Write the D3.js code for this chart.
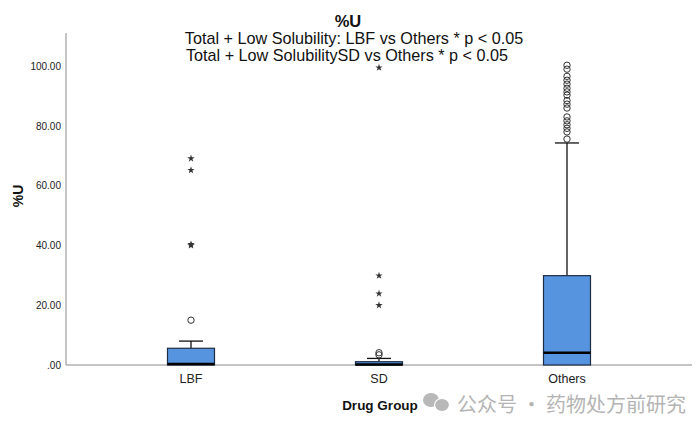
<!DOCTYPE html>
<html><head><meta charset="utf-8">
<script src="https://cdn.jsdelivr.net/npm/d3@7/dist/d3.min.js"></script>
<style>body{margin:0;background:#fff;} svg{display:block;font-family:"Liberation Sans",Arial,sans-serif;}</style>
</head><body>
<svg id="chart" width="700" height="432"></svg>
<script>
const categories = ["LBF", "SD", "Others"];
const q1Values = [0, 0, 0];
const medianValues = [0.3, 0.2, 4.1];
const q3Values = [5.6, 1.1, 29.9];
const whiskerLowValues = [0, 0, 0];
const whiskerHighValues = [8.0, 2.2, 74.3];
const outlierCircles = [
  [15.0],
  [3.4, 4.1],
  [75.6, 78.0, 79.2, 80.4, 81.7, 83.0, 86.0, 87.3, 88.5, 90.3, 91.4, 92.6, 94.0, 95.3, 96.6, 99.0, 100.3]
];
const extremeStars = [
  [40.0, 40.4, 65.2, 69.1],
  [20.0, 23.9, 29.9, 99.5],
  []
];
const yTicks = [0, 20, 40, 60, 80, 100];
const titleLines = ["%U", "Total + Low Solubility: LBF vs Others * p < 0.05", "Total + Low SolubilitySD vs Others * p < 0.05"];

const svg = d3.select("#chart");
const y = d3.scaleLinear().domain([0, 111.1]).range([365, 33]);
const x = d3.scaleBand().domain(categories).range([97, 661]).padding(0);
const boxW = 47, capW = 24;

// axes
const yAxis = d3.axisLeft(y).tickValues(yTicks).tickSize(0).tickPadding(5)
  .tickFormat(d => d === 0 ? ".00" : d3.format(".2f")(d));
const gy = svg.append("g").attr("transform", "translate(66,0)").call(yAxis);
gy.select(".domain").attr("stroke", "#8a8a8a").attr("d", `M0,${y(111.1)}V${y(0)}`);
gy.selectAll("text").attr("font-size", 10).attr("fill", "#222");

const xAxis = d3.axisBottom(x).tickSize(0).tickPadding(9);
const gx = svg.append("g").attr("transform", `translate(0,${y(0)})`).call(xAxis);
gx.select(".domain").attr("stroke", "#8a8a8a").attr("d", "M66,0H692");
gx.selectAll("text").attr("font-size", 12.5).attr("fill", "#222");

// boxes
const data = categories.map((c, i) => ({c, q1: q1Values[i], med: medianValues[i], q3: q3Values[i],
  lo: whiskerLowValues[i], hi: whiskerHighValues[i], circ: outlierCircles[i], stars: extremeStars[i]}));
const g = svg.append("g").selectAll("g").data(data).join("g")
  .attr("transform", d => `translate(${x(d.c) + x.bandwidth() / 2},0)`);
g.append("line").attr("x1", 0).attr("x2", 0).attr("y1", d => y(d.q3)).attr("y2", d => y(d.hi))
  .attr("stroke", "#111").attr("stroke-width", 1.3);
g.append("line").attr("x1", -capW / 2).attr("x2", capW / 2).attr("y1", d => y(d.hi)).attr("y2", d => y(d.hi))
  .attr("stroke", "#111").attr("stroke-width", 1.3);
g.append("rect").attr("x", -boxW / 2).attr("width", boxW)
  .attr("y", d => y(d.q3)).attr("height", d => y(d.q1) - y(d.q3))
  .attr("fill", "#5694e0").attr("stroke", "#1f2d44").attr("stroke-width", 1.2);
g.append("line").attr("x1", -boxW / 2).attr("x2", boxW / 2).attr("y1", d => y(d.med)).attr("y2", d => y(d.med))
  .attr("stroke", "#000").attr("stroke-width", 2.5);
g.selectAll("circle").data(d => d.circ).join("circle")
  .attr("cx", 0).attr("cy", v => y(v)).attr("r", 3.2)
  .attr("fill", "none").attr("stroke", "#333").attr("stroke-width", 1);
const star = d3.symbol(d3.symbolStar, 17);
g.selectAll("path.star").data(d => d.stars).join("path").attr("class", "star")
  .attr("transform", v => `translate(0,${y(v)})`).attr("d", star).attr("fill", "#333");

// titles
svg.append("text").attr("x", 348).attr("y", 27).attr("text-anchor", "middle")
  .attr("font-size", 16.5).attr("font-weight", "bold").attr("fill", "#111").text(titleLines[0]);
svg.append("text").attr("x", 354).attr("y", 44).attr("text-anchor", "middle")
  .attr("font-size", 16.2).attr("fill", "#111").text(titleLines[1]);
svg.append("text").attr("x", 347).attr("y", 61).attr("text-anchor", "middle")
  .attr("font-size", 16.2).attr("fill", "#111").text(titleLines[2]);

svg.append("text").attr("transform", "translate(23,196) rotate(-90)").attr("text-anchor", "middle")
  .attr("font-size", 14).attr("font-weight", "bold").attr("fill", "#111").text("%U");
svg.append("text").attr("x", 380).attr("y", 410).attr("text-anchor", "middle")
  .attr("font-size", 13.5).attr("font-weight", "bold").attr("fill", "#111").text("Drug Group");

// watermark
const wm = svg.append("g").attr("fill", "#b8b8b8");
wm.append("ellipse").attr("cx", 431).attr("cy", 400).attr("rx", 8).attr("ry", 7);
wm.append("ellipse").attr("cx", 442).attr("cy", 405).attr("rx", 7.5).attr("ry", 6.5).attr("stroke", "#fff").attr("stroke-width", 1.2);
svg.append("text").attr("x", 457).attr("y", 412).attr("font-size", 20)
  .attr("font-family", "'Noto Sans CJK SC', sans-serif").attr("fill", "#b4b4b4").text("公众号 · 药物处方前研究");
</script>
</body></html>
